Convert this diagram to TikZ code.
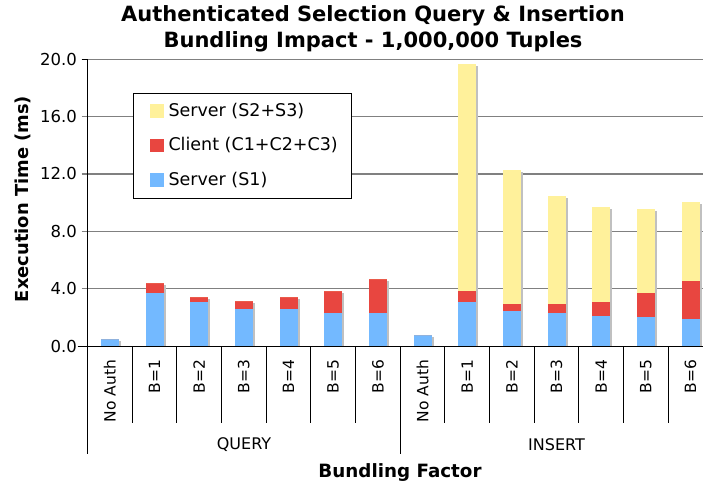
\documentclass[tikz,border=0pt]{standalone}
\usepackage{fontspec}
\setmainfont{DejaVu Sans}
\definecolor{ylw}{RGB}{255,241,155}
\definecolor{rd}{RGB}{232,70,64}
\definecolor{bl}{RGB}{115,185,255}
\definecolor{shd}{RGB}{192,192,192}
\definecolor{grd}{RGB}{128,128,128}
\begin{document}
\begin{tikzpicture}[x=1pt,y=-1pt,
  gridline/.style={draw=grd,line width=1.2pt},
  axisline/.style={draw=black,line width=1pt},
  ticklab/.style={anchor=east,inner sep=0pt,font=\fontsize{16.5}{18}\selectfont},
  catlab/.style={rotate=90,anchor=east,inner sep=0pt,font=\fontsize{15.5}{17}\selectfont},
  grplab/.style={inner sep=0pt,font=\fontsize{16}{18}\selectfont},
  legtext/.style={anchor=west,inner sep=0pt,font=\fontsize{17.5}{19}\selectfont},
  swatch/.style={minimum size=13.7pt,inner sep=0pt,draw=none}]
\useasboundingbox (0,0) rectangle (703,487);
\clip (0,0) rectangle (703,487);
% title
\node[align=center,font=\fontsize{21}{26}\bfseries\selectfont,inner sep=0pt] (title) at (373,29)
  {Authenticated Selection Query \& Insertion\\Bundling Impact - 1,000,000 Tuples};
% gridlines
\foreach \v in {4,8,12,16,20}{
  \pgfmathsetmacro\yy{346-\v*14.335}
  \draw[gridline] (81.5,\yy) -- (703,\yy);
}
% y labels
\foreach \v/\lab in {0/0.0,4/4.0,8/8.0,12/12.0,16/16.0,20/20.0}{
  \pgfmathsetmacro\yy{346-\v*14.335}
  \node[ticklab] (yl\v) at (77,\yy) {\lab};
}
% bars: index / blue top / red top / yellow top
\foreach \i/\a/\b/\c in {0/0.5/0.5/0.5, 1/3.70/4.40/4.40, 2/3.07/3.42/3.42, 3/2.58/3.14/3.14,
  4/2.58/3.42/3.42, 5/2.30/3.84/3.84, 6/2.30/4.68/4.68,
  7/0.77/0.77/0.77, 8/3.07/3.84/19.68, 9/2.44/2.93/12.28, 10/2.30/2.93/10.47,
  11/2.09/3.07/9.70, 12/2.02/3.70/9.56, 13/1.88/4.54/10.05}{
  \pgfmathsetmacro\cx{87.5+44.67*(\i+0.5)}
  \pgfmathsetmacro\ya{346-\a*14.335}
  \pgfmathsetmacro\yb{346-\b*14.335}
  \pgfmathsetmacro\yc{346-\c*14.335}
  \fill[shd] (\cx-7,\yc+2) rectangle (\cx+11,346);
  \fill[bl] (\cx-9,346) rectangle (\cx+9,\ya);
  \fill[rd] (\cx-9,\ya) rectangle (\cx+9,\yb);
  \fill[ylw] (\cx-9,\yb) rectangle (\cx+9,\yc);
}
% axes
\draw[axisline] (87.5,59) -- (87.5,453.5);
\draw[axisline] (77.5,346) -- (703,346);
\draw[axisline] (81.5,59) -- (87.5,59);
% category separators
\foreach \i in {1,2,3,4,5,6,8,9,10,11,12,13}{
  \pgfmathsetmacro\xx{87.5+44.67*\i}
  \draw[axisline] (\xx,346) -- (\xx,422.5);
}
\draw[axisline] (400.2,346) -- (400.2,453.5);
% category labels
\foreach \i/\lab in {0/No Auth,1/B=1,2/B=2,3/B=3,4/B=4,5/B=5,6/B=6,
  7/No Auth,8/B=1,9/B=2,10/B=3,11/B=4,12/B=5,13/B=6}{
  \pgfmathsetmacro\cx{87.5+44.67*(\i+0.5)}
  \node[catlab] (c\i) at (\cx,359.5) {\lab};
}
\node[grplab] (gq) at (244,444.5) {QUERY};
\node[grplab] (gi) at (556.5,444.5) {INSERT};
% axis titles
\node[font=\fontsize{18.3}{20}\bfseries\selectfont,inner sep=0pt] (xt) at (400,472.5) {Bundling Factor};
\node[rotate=90,font=\fontsize{17.9}{20}\bfseries\selectfont,inner sep=0pt] (yt) at (23,199) {Execution Time (ms)};
% legend
\draw[fill=white,draw=black,line width=1pt] (133.3,93.3) rectangle (351.7,198.3);
\node[swatch,fill=ylw] (s1) at (156.8,111) {};
\node[swatch,fill=rd] (s2) at (156.8,145.5) {};
\node[swatch,fill=bl] (s3) at (156.8,180) {};
\node[legtext] (t1) at (168.3,111) {Server (S2+S3)};
\node[legtext] (t2) at (168.3,145.5) {Client (C1+C2+C3)};
\node[legtext] (t3) at (168.3,180) {Server (S1)};
\end{tikzpicture}
\end{document}
